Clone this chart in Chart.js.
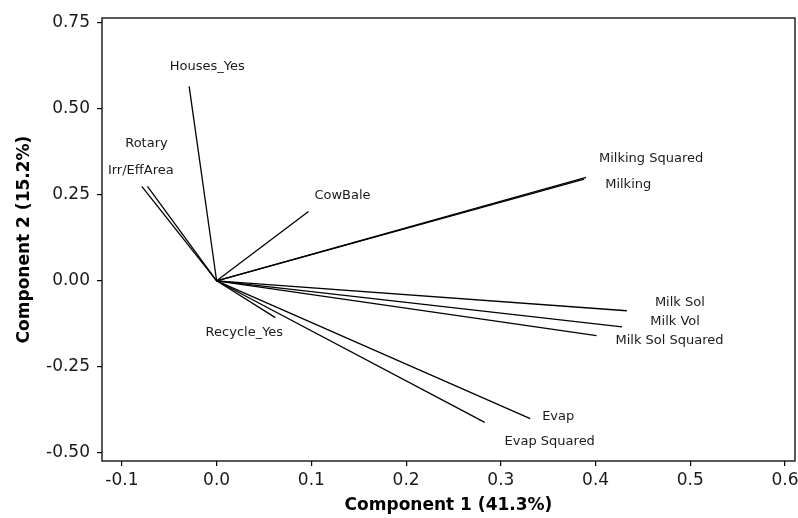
<!DOCTYPE html>
<html>
<head>
<meta charset="utf-8">
<script src="https://cdn.jsdelivr.net/npm/chart.js@4/dist/chart.umd.min.js"></script>
<style>
  html, body { margin: 0; padding: 0; background: #ffffff; }
  #wrap { width: 798px; height: 518px; position: relative; }
</style>
</head>
<body>
<div id="wrap"><canvas id="c" width="798" height="518"></canvas></div>
<script>
// ---- data ----
const variables = ['Houses_Yes', 'Rotary', 'Irr/EffArea', 'CowBale', 'Milking Squared', 'Milking',
                   'Milk Sol', 'Milk Vol', 'Milk Sol Squared', 'Evap', 'Evap Squared', 'Recycle_Yes'];
const pc1 = [-0.029, -0.073, -0.079, 0.097, 0.390, 0.388, 0.433, 0.428, 0.401, 0.331, 0.283, 0.062];
const pc2 = [0.564, 0.274, 0.274, 0.201, 0.300, 0.295, -0.087, -0.134, -0.159, -0.400, -0.411, -0.107];
const xTicks = [-0.1, 0.0, 0.1, 0.2, 0.3, 0.4, 0.5, 0.6];
const yTicks = [-0.50, -0.25, 0.00, 0.25, 0.50, 0.75];
const xTitle = 'Component 1 (41.3%)';
const yTitle = 'Component 2 (15.2%)';

// ---- label placement (pixel offsets from each vector tip) ----
const labelOffsets = {
  'Houses_Yes': [18, -20], 'Rotary': [-1, -43], 'Irr/EffArea': [-1, -16], 'CowBale': [34, -16],
  'Milking Squared': [65, -19], 'Milking': [44, 5], 'Milk Sol': [53, -8], 'Milk Vol': [53, -5],
  'Milk Sol Squared': [73, 5], 'Evap': [28, -2], 'Evap Squared': [65, 19], 'Recycle_Yes': [-31, 15]
};

const datasets = variables.map((name, i) => ({
  label: name,
  data: [{x: 0, y: 0}, {x: pc1[i], y: pc2[i]}],
  showLine: true,
  borderColor: '#000000',
  borderWidth: 1.3,
  pointRadius: 0,
  pointHoverRadius: 0,
  fill: false
}));

const frameAndLabels = {
  id: 'frameAndLabels',
  afterDatasetsDraw(chart) {
    const ctx = chart.ctx;
    const a = chart.chartArea;
    ctx.save();
    ctx.strokeStyle = '#000000';
    ctx.lineWidth = 1.3;
    ctx.strokeRect(a.left, a.top, a.right - a.left, a.bottom - a.top);
    ctx.fillStyle = '#1a1a1a';
    ctx.font = '13px "DejaVu Sans"';
    ctx.textAlign = 'center';
    ctx.textBaseline = 'middle';
    const xs = chart.scales.x, ys = chart.scales.y;
    variables.forEach((name, i) => {
      const px = xs.getPixelForValue(pc1[i]);
      const py = ys.getPixelForValue(pc2[i]);
      const off = labelOffsets[name];
      ctx.fillText(name, px + off[0], py + off[1]);
    });
    ctx.restore();
  }
};

new Chart(document.getElementById('c'), {
  type: 'scatter',
  data: { datasets },
  options: {
    responsive: false,
    animation: false,
    devicePixelRatio: 1,
    layout: { padding: { top: 18, right: 3, left: 0, bottom: 0 } },
    plugins: { legend: { display: false }, tooltip: { enabled: false } },
    scales: {
      x: {
        type: 'linear',
        min: -0.121,
        max: 0.6105,
        afterBuildTicks(scale) { scale.ticks = xTicks.map(v => ({ value: v })); },
        afterFit(scale) { scale.height = 57; scale.paddingLeft = 0; scale.paddingRight = 0; },
        ticks: {
          color: '#1a1a1a',
          font: { family: 'DejaVu Sans', size: 17 },
          padding: 4,
          maxRotation: 0,
          callback: (v) => (Math.abs(v) < 1e-9 ? 0 : v).toFixed(1)
        },
        grid: { display: true, drawOnChartArea: false, drawTicks: true, tickLength: 5, color: '#000000', lineWidth: 1.2 },
        border: { display: false },
        title: { display: true, text: xTitle, color: '#000000', font: { family: 'DejaVu Sans', size: 17, weight: 'bold' }, padding: { top: 0, bottom: 2 } }
      },
      y: {
        type: 'linear',
        min: -0.523,
        max: 0.7626,
        afterBuildTicks(scale) { scale.ticks = yTicks.map(v => ({ value: v })); },
        afterFit(scale) { scale.width = 102; scale.paddingTop = 0; scale.paddingBottom = 0; },
        ticks: {
          color: '#1a1a1a',
          font: { family: 'DejaVu Sans', size: 17 },
          padding: 7,
          callback: (v) => (Math.abs(v) < 1e-9 ? 0 : v).toFixed(2)
        },
        grid: { display: true, drawOnChartArea: false, drawTicks: true, tickLength: 5, color: '#000000', lineWidth: 1.2 },
        border: { display: false },
        title: { display: true, text: yTitle, color: '#000000', font: { family: 'DejaVu Sans', size: 17, weight: 'bold' }, padding: { top: 14, bottom: 0 } }
      }
    }
  },
  plugins: [frameAndLabels]
});
</script>
</body>
</html>
